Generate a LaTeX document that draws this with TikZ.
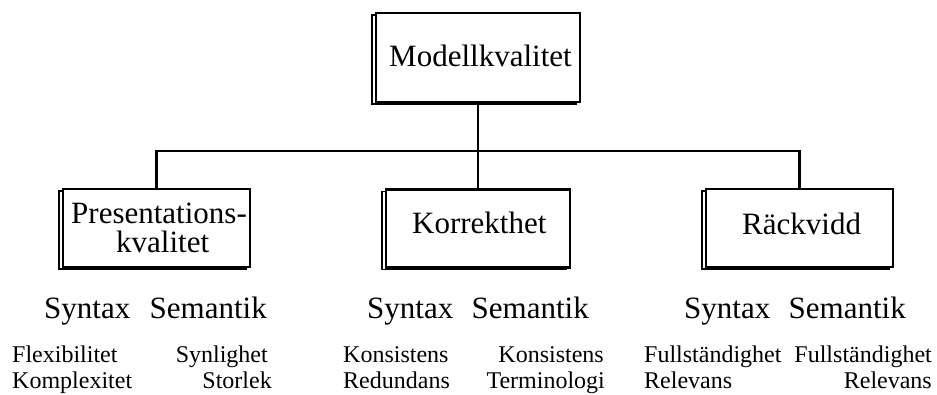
\documentclass[tikz,border=0pt]{standalone}
\usepackage{fontspec}
\setmainfont{Liberation Serif}
\usetikzlibrary{shadows}
\tikzset{
  boxshape/.style={draw, line width=2.2pt, fill=white, rectangle, inner sep=0pt,
    general shadow={shadow xshift=-4pt, shadow yshift=-1.8pt, draw=black, fill=white, line width=1.6pt}},
  big/.style={font=\fontsize{31}{29}\selectfont, inner sep=0pt},
  small/.style={font=\fontsize{24}{28}\selectfont, inner sep=0pt},
  conn/.style={line width=2.2pt}
}
\begin{document}
\begin{tikzpicture}[x=1pt,y=-1pt]
\useasboundingbox (0,0) rectangle (937,394);
% boxes
\node[boxshape, minimum width=204pt, minimum height=89pt] (m) at (478,57.5) {};
\node[boxshape, minimum width=187pt, minimum height=78pt] (p) at (156.5,228) {};
\node[boxshape, minimum width=184pt, minimum height=78pt] (k) at (478,228.5) {};
\node[boxshape, minimum width=187pt, minimum height=78pt] (r) at (799.5,228) {};
% box texts
\node[big, anchor=base west] (mt) at (389,66) {Modellkvalitet};
\node[big, anchor=base west] (pt1) at (71,223) {Presentations-};
\node[big, anchor=base west] (pt2) at (116,252) {kvalitet};
\node[big, anchor=base west] (kt) at (412,233) {Korrekthet};
\node[big, anchor=base west] (rt) at (742,234) {Räckvidd};
% connectors
\coordinate (bus) at (478,151);
\draw[conn] (m.south) -- (k.north);
\draw[conn] (p.north) -- (p.north |- bus) -- (r.north |- bus) -- (r.north);
% column 1
\node[big, anchor=base west] (s1) at (44,318) {Syntax};
\node[big, anchor=base east] (e1) at (267,318) {Semantik};
\node[small, anchor=base west] (a1) at (12,362) {Flexibilitet};
\node[small, anchor=base east] (b1) at (268,362) {Synlighet};
\node[small, anchor=base west] (c1) at (12,388) {Komplexitet};
\node[small, anchor=base east] (d1) at (272,388) {Storlek};
% column 2
\node[big, anchor=base west] (s2) at (367,318) {Syntax};
\node[big, anchor=base east] (e2) at (589,318) {Semantik};
\node[small, anchor=base west] (a2) at (343,362) {Konsistens};
\node[small, anchor=base east] (b2) at (604,362) {Konsistens};
\node[small, anchor=base west] (c2) at (343,388) {Redundans};
\node[small, anchor=base east] (d2) at (605,388) {Terminologi};
% column 3
\node[big, anchor=base west] (s3) at (684,318) {Syntax};
\node[big, anchor=base east] (e3) at (906,318) {Semantik};
\node[small, anchor=base west] (a3) at (644,362) {Fullständighet};
\node[small, anchor=base east] (b3) at (932,362) {Fullständighet};
\node[small, anchor=base west] (c3) at (644,388) {Relevans};
\node[small, anchor=base east] (d3) at (932,388) {Relevans};
\end{tikzpicture}
\end{document}
